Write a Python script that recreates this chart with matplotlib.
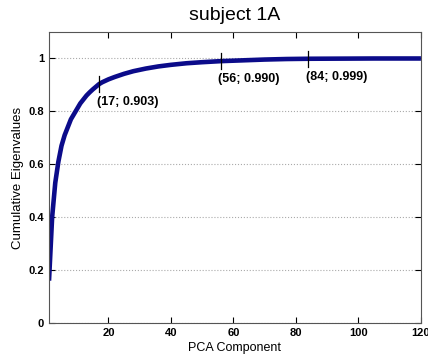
import numpy as np
import matplotlib
matplotlib.use("Agg")
import matplotlib.pyplot as plt

plt.rcParams['font.family'] = ['Liberation Sans', 'DejaVu Sans']

# Данные
components = [1, 2, 3, 4, 5, 6, 7, 8, 9, 10, 11, 12, 13, 14, 15, 16, 17, 18, 20, 22,
              25, 28, 32, 36, 40, 45, 50, 56, 63, 70, 77, 84, 95, 105, 120]
cum_eig = [0.16, 0.40, 0.53, 0.61, 0.67, 0.71, 0.74, 0.77, 0.79, 0.81, 0.83, 0.845,
           0.86, 0.872, 0.883, 0.893, 0.903, 0.91, 0.921, 0.93, 0.942, 0.952, 0.962,
           0.97, 0.976, 0.982, 0.986, 0.990, 0.993, 0.996, 0.998, 0.999, 0.9995, 1.0, 1.0]
marked_x = [17, 56, 84]
marked_y = [0.903, 0.990, 0.999]
xticks = [20, 40, 60, 80, 100, 120]
yticks = [0, 0.2, 0.4, 0.6, 0.8, 1]

fig = plt.figure(figsize=(4.28, 3.56), dpi=100)
ax = fig.add_axes([0.1145, 0.0927, 0.869, 0.8173])

ax.plot(components, cum_eig, color='#0b0b8a', linewidth=3.3, solid_capstyle='butt')

# Отметки с подписями
for mx, my in zip(marked_x, marked_y):
    ax.plot([mx, mx], [my - 0.03, my + 0.03], color='black', linewidth=0.9)
    ax.text(mx - 0.8, my - 0.045, f'({mx}; {my:.3f})', fontsize=9, fontweight='bold',
            ha='left', va='top')

ax.set_xlim(1, 120)
ax.set_ylim(0, 1.1)
ax.set_xticks(xticks)
ax.set_yticks(yticks)
ax.set_yticklabels(['0', '0.2', '0.4', '0.6', '0.8', '1'])
for lbl in ax.get_xticklabels() + ax.get_yticklabels():
    lbl.set_fontweight('bold')
ax.tick_params(direction='in', top=True, right=True, labelsize=8, length=4, width=0.8)
ax.grid(True, axis='y', linestyle=':', color='#aaaaaa', linewidth=0.8)
for sp in ax.spines.values():
    sp.set_color('#555555')

ax.set_xlabel('PCA Component', fontsize=9, labelpad=3)
ax.set_ylabel('Cumulative Eigenvalues', fontsize=9.5, labelpad=3)
ax.set_title('subject 1A', fontsize=14, pad=9)

fig.savefig('out.png', dpi=100)
